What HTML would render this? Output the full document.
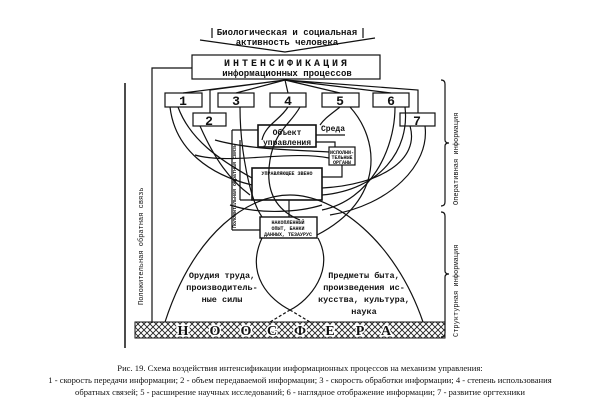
<!DOCTYPE html>
<html><head><meta charset="utf-8"><style>
html,body{margin:0;padding:0;background:#fff;width:600px;height:410px;overflow:hidden}
svg{display:block}
.m{font-family:"Liberation Mono",monospace;font-weight:bold;fill:#111}
.s{font-family:"Liberation Serif",serif;fill:#111}
</style></head><body>
<svg width="600" height="410" viewBox="0 0 600 410" xmlns="http://www.w3.org/2000/svg">
<defs>
<pattern id="h" width="6" height="6" patternUnits="userSpaceOnUse">
<path d="M0 0L6 6M6 0L0 6" stroke="#222" stroke-width="0.9"/>
</pattern>
</defs>
<g fill="none" stroke="#111" stroke-width="1.2">
<path d="M212 28V38M363 28V38"/>
<path d="M200 40L285 52L375 38"/>
<rect x="192" y="55" width="188" height="24"/>
<path d="M285 80L183 93M285 80L236 93M285 80L288 93M285 80L340 93M285 80L391 93M285 80L418 90V113M285 80L210 90V113"/>
<rect x="165" y="93" width="37" height="14"/>
<rect x="218" y="93" width="36" height="14"/>
<rect x="270" y="93" width="36" height="14"/>
<rect x="322" y="93" width="37" height="14"/>
<rect x="373" y="93" width="36" height="14"/>
<rect x="193" y="113" width="33" height="13"/>
<rect x="400" y="113" width="35" height="13"/>
<path d="M192 68H152V323"/>
<path d="M125 83V348" stroke-width="1.5"/>
<path d="M441 80q4 0 4 4v56q0 3 4 3q-4 0-4 3v56q0 4-4 4"/>
<path d="M441 212q4 0 4 4v55q0 3 4 3q-4 0-4 3v56q0 4-4 4"/>
<rect x="258" y="125" width="58" height="22" stroke-width="1.6"/>
<rect x="329" y="147" width="26" height="18"/>
<rect x="252" y="168" width="70" height="32" stroke-width="1.6"/>
<rect x="260" y="217" width="57" height="21" stroke-width="1.4"/>
<path d="M316 135H345M316 142H335V147M342 165V177H322M289 217V200M232 130H258M232 130V230M232 230H260" />
<path d="M240 200H252M240 140V200"/>
<path d="M170 107C175 150 210 175 252 185"/>
<path d="M178 107C190 140 220 160 252 178"/>
<path d="M200 126C215 160 230 180 250 195"/>
<path d="M240 107C240 150 250 200 262 217"/>
<path d="M288 107C280 120 265 125 262 140"/>
<path d="M300 107C290 125 275 130 270 160C265 190 275 210 300 220"/>
<path d="M340 107C330 115 325 118 320 125"/>
<path d="M350 107C380 140 385 200 317 235"/>
<path d="M395 107C395 150 370 200 322 210"/>
<path d="M405 107C410 150 380 190 322 195"/>
<path d="M410 126C420 160 380 185 322 188"/>
<path d="M425 126C430 165 390 205 330 215"/>
<path d="M195 155C230 165 290 150 329 158"/>
<path d="M215 140C250 150 300 150 329 152"/>
<path d="M230 205C260 215 300 212 322 205"/>
<path d="M165 322C195 230 250 195 290 195C335 195 395 240 423 322"/>
<path d="M262 238C245 275 270 300 290 310C310 300 335 270 318 238"/>
<path d="M290 310L270 322M290 310L310 322" stroke-dasharray="3,2"/>
</g>
<rect x="135" y="322" width="310" height="16" fill="url(#h)" stroke="#111"/>
<g class="m" font-size="9" text-anchor="middle">
<text x="287" y="35">Биологическая и социальная</text>
<text x="287" y="45">активность человека</text>
<text x="287" y="66" font-size="10" letter-spacing="3">ИНТЕНСИФИКАЦИЯ</text>
<text x="287" y="76">информационных процессов</text>
<text x="183" y="105" font-size="13">1</text>
<text x="236" y="105" font-size="13">3</text>
<text x="288" y="105" font-size="13">4</text>
<text x="340" y="105" font-size="13">5</text>
<text x="391" y="105" font-size="13">6</text>
<text x="209" y="125" font-size="13">2</text>
<text x="417" y="125" font-size="13">7</text>
<text x="287" y="135" font-size="8">Объект</text>
<text x="287" y="145" font-size="8">управления</text>
<text x="333" y="131" font-size="8">Среда</text>
<text x="342" y="154" font-size="5">ИСПОЛНИ-</text>
<text x="342" y="159" font-size="5">ТЕЛЬНЫЕ</text>
<text x="342" y="164" font-size="5">ОРГАНЫ</text>
<text x="287" y="175" font-size="5">УПРАВЛЯЮЩЕЕ ЗВЕНО</text>
<text x="288" y="224" font-size="5">НАКОПЛЕННЫЙ</text>
<text x="288" y="230" font-size="5">ОПЫТ, БАНКИ</text>
<text x="288" y="236" font-size="5">ДАННЫХ, ТЕЗАУРУС</text>
<text x="222" y="278" font-size="8.5">Орудия труда,</text>
<text x="222" y="290" font-size="8.5">производитель-</text>
<text x="222" y="302" font-size="8.5">ные силы</text>
<text x="364" y="278" font-size="8.5">Предметы быта,</text>
<text x="364" y="290" font-size="8.5">произведения ис-</text>
<text x="364" y="302" font-size="8.5">кусства, культура,</text>
<text x="364" y="314" font-size="8.5">наука</text>
</g>
<g class="s" font-size="14" font-weight="bold" text-anchor="middle" style="paint-order:stroke;stroke:#fff;stroke-width:3">
<text x="183" y="335">Н</text><text x="215" y="335">О</text><text x="246" y="335">О</text><text x="272" y="335">С</text><text x="300" y="335">Ф</text><text x="330" y="335">Е</text><text x="360" y="335">Р</text><text x="386" y="335">А</text>
</g>
<g class="m" font-size="7">
<text transform="translate(143,305) rotate(-90)" font-weight="normal">Положительная обратная связь</text>
<text transform="translate(458,205) rotate(-90)" font-weight="normal">Оперативная информация</text>
<text transform="translate(458,337) rotate(-90)" font-weight="normal">Структурная информация</text>
<text transform="translate(236,228) rotate(-90)" font-size="5">Положительная обратная связь</text>
</g>
<g class="s" font-size="8.6" text-anchor="middle">
<text x="300" y="371">Рис. 19. Схема воздействия интенсификации информационных процессов на механизм управления:</text>
<text x="300" y="383">1 - скорость передачи информации; 2 - объем передаваемой информации; 3 - скорость обработки информации; 4 - степень использования</text>
<text x="300" y="395">обратных связей; 5 - расширение научных исследований; 6 - наглядное отображение информации; 7 - развитие оргтехники</text>
</g>
</svg>
</body></html>
